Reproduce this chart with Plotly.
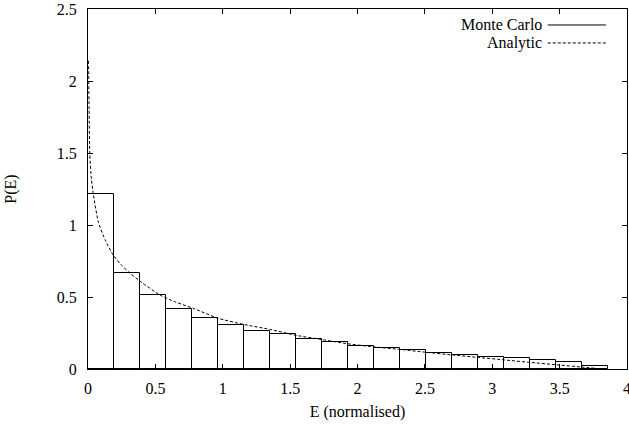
import plotly.graph_objects as go

# ---- data ----
bin_edges = [0.0, 0.193, 0.386, 0.579, 0.772, 0.965, 1.158, 1.351, 1.544, 1.737,
             1.930, 2.123, 2.316, 2.509, 2.702, 2.895, 3.088, 3.281, 3.474, 3.667, 3.860]
mc_density = [1.213, 0.667, 0.512, 0.414, 0.352, 0.308, 0.265, 0.240, 0.208, 0.188,
              0.160, 0.148, 0.132, 0.113, 0.100, 0.086, 0.074, 0.060, 0.046, 0.023]

analytic_E = [0.004, 0.008, 0.013, 0.025, 0.04, 0.077, 0.13, 0.188, 0.25, 0.312,
              0.4, 0.534, 0.65, 0.782, 0.967, 1.153, 1.35, 1.549, 1.746, 1.93,
              2.13, 2.315, 2.51, 2.71, 2.90, 3.09, 3.28, 3.48, 3.68, 3.76]
analytic_P = [2.14, 1.80, 1.50, 1.32, 1.21, 1.02, 0.89, 0.79, 0.72, 0.665,
              0.60, 0.514, 0.465, 0.421, 0.352, 0.310, 0.275, 0.233, 0.203, 0.175,
              0.153, 0.136, 0.116, 0.097, 0.080, 0.063, 0.046, 0.029, 0.012, 0.005]

x_ticks = [0, 0.5, 1, 1.5, 2, 2.5, 3, 3.5, 4]
x_tick_text = ["0", "0.5", "1", "1.5", "2", "2.5", "3", "3.5", "4"]
y_ticks = [0, 0.5, 1, 1.5, 2, 2.5]
y_tick_text = ["0", "0.5", "1", "1.5", "2", "2.5"]

legend_labels = ["Monte Carlo", "Analytic"]

# ---- figure ----
centers = [(a + b) / 2 for a, b in zip(bin_edges[:-1], bin_edges[1:])]
widths = [b - a for a, b in zip(bin_edges[:-1], bin_edges[1:])]

FONT = "'Liberation Serif', 'Liberation Sans', Arial, sans-serif"
FS = 16

fig = go.Figure()
fig.add_trace(go.Bar(
    x=centers, y=mc_density, width=widths,
    marker=dict(color="white", line=dict(color="black", width=1)),
    showlegend=False, hoverinfo="skip",
))
fig.add_trace(go.Scatter(
    x=analytic_E, y=analytic_P, mode="lines",
    line=dict(color="black", width=1, dash="3px,2px", shape="spline", smoothing=0.6),
    showlegend=False, hoverinfo="skip",
))

axis_common = dict(
    showline=True, linecolor="black", linewidth=1, mirror="allticks",
    ticks="inside", ticklen=5, tickwidth=1, tickcolor="black",
    showgrid=False, zeroline=False, ticklabeloverflow="allow",
    tickfont=dict(family=FONT, size=FS, color="black"),
)

fig.update_layout(
    width=629, height=435,
    margin=dict(l=88, r=2, t=9, b=66),
    paper_bgcolor="white", plot_bgcolor="white",
    font=dict(family=FONT, size=FS, color="black"),
    bargap=0,
    xaxis=dict(range=[0, 4], tickvals=x_ticks, ticktext=x_tick_text,
               title=dict(text="E (normalised)", standoff=9,
                          font=dict(family=FONT, size=FS)),
               ticklabelstandoff=5, automargin=False, **axis_common),
    yaxis=dict(range=[0, 2.5], tickvals=y_ticks, ticktext=y_tick_text,
               title=dict(text="P(E)", standoff=36,
                          font=dict(family=FONT, size=FS)),
               ticklabelstandoff=7, automargin=False, **axis_common),
)

# gnuplot-style legend: right-aligned labels with line samples to the right
legend_rows_y = [0.9556, 0.9056]
legend_dashes = ["solid", "3px,2px"]
for label, yy, dsh in zip(legend_labels, legend_rows_y, legend_dashes):
    fig.add_annotation(x=0.846, y=yy, xref="paper", yref="paper", text=label,
                       showarrow=False, xanchor="right", yanchor="middle",
                       font=dict(family=FONT, size=FS, color="black"))
    fig.add_shape(type="line", xref="paper", yref="paper",
                  x0=0.853, x1=0.961, y0=yy, y1=yy,
                  line=dict(color="black", width=1, dash=dsh))

fig.write_html("out.html")
